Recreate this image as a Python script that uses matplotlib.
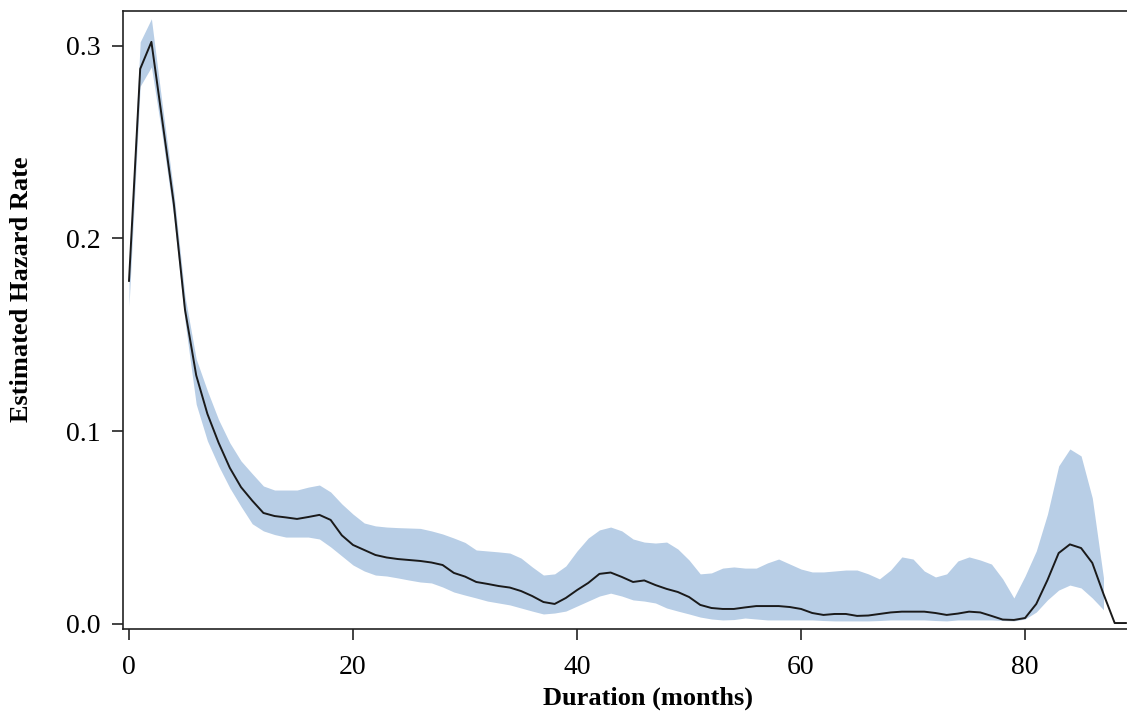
import matplotlib
matplotlib.use("Agg")
import matplotlib.pyplot as plt
import numpy as np

# meses de duracion
months = np.arange(0, 90)

# tasa de riesgo estimada (linea central)
hazard = [
    0.178, 0.288, 0.302, 0.260, 0.218, 0.163, 0.129, 0.109, 0.094, 0.081,
    0.071, 0.064, 0.0576, 0.056, 0.0553, 0.0545, 0.0555, 0.0566, 0.054, 0.046,
    0.041, 0.0384, 0.0358, 0.0345, 0.0337, 0.0332, 0.0327, 0.0319, 0.0306, 0.0265,
    0.0246, 0.0218, 0.0208, 0.0197, 0.0189, 0.0171, 0.0145, 0.0114, 0.0104, 0.0135,
    0.0176, 0.0213, 0.026, 0.0267, 0.0244, 0.0218, 0.0226, 0.0202, 0.0182, 0.0166,
    0.014, 0.0099, 0.0083, 0.0078, 0.0078, 0.0086, 0.0093, 0.0093, 0.0093, 0.0088,
    0.0078, 0.0057, 0.0047, 0.0052, 0.0052, 0.0042, 0.0044, 0.0052, 0.006, 0.0064,
    0.0064, 0.0064, 0.0057, 0.0047, 0.0054, 0.0064, 0.006, 0.0042, 0.0023, 0.0021,
    0.0031, 0.0104, 0.0228, 0.0368, 0.0413, 0.0394, 0.0317, 0.0156, 0.0005, 0.0005,
]

# intervalo de confianza (hasta el mes 87)
lower = [
    0.165, 0.279, 0.289, 0.252, 0.211, 0.157, 0.114, 0.095, 0.082, 0.0706,
    0.061, 0.052, 0.0483, 0.0464, 0.0451, 0.0451, 0.0451, 0.0441, 0.040, 0.0353,
    0.0306, 0.0275, 0.0254, 0.0249, 0.0239, 0.0228, 0.0218, 0.0213, 0.0192, 0.0166,
    0.015, 0.0135, 0.0119, 0.0109, 0.0099, 0.0083, 0.0067, 0.0052, 0.0057, 0.0067,
    0.0093, 0.0119, 0.0145, 0.016, 0.0145, 0.0125, 0.0119, 0.0109, 0.0083, 0.0067,
    0.0052, 0.0036, 0.0026, 0.0021, 0.0023, 0.0031, 0.0026, 0.0021, 0.0021, 0.0021,
    0.0021, 0.0021, 0.0018, 0.0016, 0.0016, 0.0016, 0.0016, 0.0018, 0.0021, 0.0021,
    0.0021, 0.0021, 0.0018, 0.0016, 0.0021, 0.0021, 0.0021, 0.0021, 0.0018, 0.0016,
    0.0026, 0.0062, 0.0125, 0.0176, 0.0202, 0.0187, 0.0135, 0.0074,
]
upper = [
    0.186, 0.302, 0.314, 0.268, 0.224, 0.170, 0.1375, 0.121, 0.106, 0.094,
    0.0846, 0.078, 0.0716, 0.0695, 0.0695, 0.0695, 0.071, 0.0721, 0.0685, 0.0623,
    0.057, 0.0524, 0.0509, 0.0503, 0.050, 0.0498, 0.0496, 0.0483, 0.0467, 0.0446,
    0.0423, 0.0384, 0.0379, 0.0374, 0.0368, 0.0342, 0.0296, 0.0254, 0.026, 0.0301,
    0.0379, 0.0446, 0.0488, 0.0503, 0.0483, 0.0441, 0.0425, 0.042, 0.0425, 0.0389,
    0.0332, 0.026, 0.0265, 0.029, 0.0296, 0.029, 0.029, 0.0317, 0.0337, 0.0311,
    0.0285, 0.027, 0.027, 0.0275, 0.028, 0.028, 0.026, 0.0234, 0.028, 0.0348,
    0.0337, 0.0275, 0.0244, 0.026, 0.0327, 0.0348, 0.0332, 0.0311, 0.0234, 0.0135,
    0.0249, 0.0379, 0.057, 0.082, 0.0908, 0.0872, 0.0654, 0.024,
]

plt.rcParams['font.family'] = ['Liberation Serif', 'DejaVu Serif']

fig = plt.figure(figsize=(11.27, 7.16), dpi=100)
ax = fig.add_axes([0.1091, 0.1215, 0.8909, 0.8631])

n = len(lower)
ax.fill_between(months[:n], lower, upper, color='#b8cee6', linewidth=0)
ax.plot(months, hazard, color='#1a1a1a', linewidth=1.4)

ax.set_xlim(-0.54, 89.1)
ax.set_ylim(-0.0026, 0.318)
ax.set_xticks([0, 20, 40, 60, 80])
ax.set_yticks([0.0, 0.1, 0.2, 0.3])
ax.set_yticklabels(['0.0', '0.1', '0.2', '0.3'])

ax.spines['right'].set_visible(False)
for s in ['left', 'top', 'bottom']:
    ax.spines[s].set_linewidth(1.2)
    ax.spines[s].set_color('#222222')
ax.tick_params(axis='both', direction='out', length=8, width=1.2, color='#222222',
               labelsize=20)
ax.tick_params(axis='x', pad=11)
ax.tick_params(axis='y', pad=8)

ax.set_xlabel('Duration (months)', fontsize=19, fontweight='bold')
ax.set_ylabel('Estimated Hazard Rate', fontsize=19, fontweight='bold')
ax.xaxis.set_label_coords(0.523, -0.093)
ax.yaxis.set_label_coords(-0.09, 0.549)

fig.savefig('out.png', dpi=100)
